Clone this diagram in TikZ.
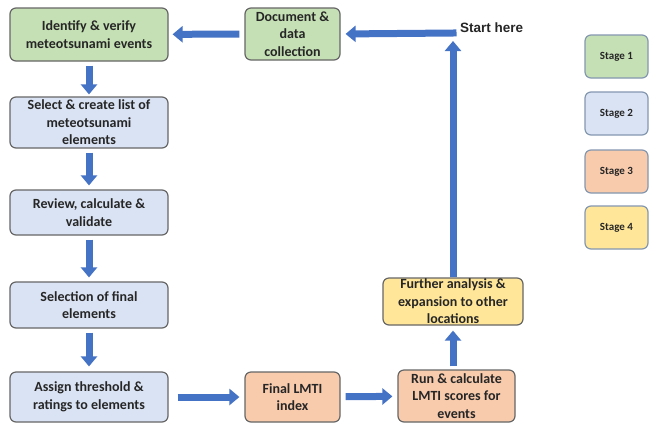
\documentclass[tikz,border=0pt]{standalone}
\usepackage{fontspec}
\setmainfont{Carlito}
\newfontfamily\starthere{Liberation Sans}
\usepackage{xcolor}
\usepackage{tikz}
\usetikzlibrary{arrows.meta,positioning,calc}

\definecolor{stgone}{HTML}{C5E0B4}
\definecolor{stgtwo}{HTML}{DAE3F3}
\definecolor{stgthree}{HTML}{F8CBAD}
\definecolor{stgfour}{HTML}{FFE699}
\definecolor{flowblue}{HTML}{4472C4}
\definecolor{boxgray}{HTML}{666666}
\definecolor{keygray}{HTML}{8497B0}

\begin{document}
\begin{tikzpicture}[x=1pt,y=-1pt,
  box/.style={draw=boxgray,line width=1.2pt,rounded corners=6pt,align=center,
    inner sep=1pt,text=black!85,font=\fontsize{14}{17.5}\selectfont\bfseries},
  keybox/.style={draw=keygray,line width=1.2pt,rounded corners=6pt,
    minimum width=63,minimum height=43,text=black!85,font=\fontsize{11}{13}\selectfont\bfseries},
  flow/.style={draw=flowblue,line width=7pt,-{Triangle[width=16pt,length=10pt]}}]
  \useasboundingbox (0,0) rectangle (655,429); % same size as the reference
  % left column
  \node[box,fill=stgone,minimum width=158,minimum height=53] (ident) at (89,34.5) {Identify \& verify\\meteotsunami events};
  \node[box,fill=stgtwo,minimum width=158,minimum height=51] (select) at (89,122.5) {Select \& create list of\\meteotsunami\\elements};
  \node[box,fill=stgtwo,minimum width=158,minimum height=45] (review) at (89,212.5) {Review, calculate \&\\validate};
  \node[box,fill=stgtwo,minimum width=158,minimum height=46] (selfin) at (89,305) {Selection of final\\elements};
  \node[box,fill=stgtwo,minimum width=158,minimum height=50] (assign) at (89,397) {Assign threshold \&\\ratings to elements};
  % middle and right
  \node[box,fill=stgone,minimum width=95,minimum height=52] (docu) at (292.5,34) {Document \&\\data\\collection};
  \node[box,fill=stgthree,minimum width=95,minimum height=50] (final) at (292.5,397) {Final LMTI\\index};
  \node[box,fill=stgthree,minimum width=117,minimum height=52] (run) at (456.5,396) {Run \& calculate\\LMTI scores for\\events};
  \node[box,fill=stgfour,minimum width=140,minimum height=47] (further) at (453,301.5) {Further analysis \&\\expansion to other\\locations};
  \coordinate (start) at (453,33);
  \node[anchor=west,inner sep=0pt,text=black!85,font=\starthere\fontsize{13.5}{15}\selectfont\bfseries] (starttxt) at (460,28) {Start here};
  % key
  \node[keybox,fill=stgone] (key1) at (616.5,56.5) {Stage 1};
  \node[keybox,fill=stgtwo] (key2) at (616.5,113.5) {Stage 2};
  \node[keybox,fill=stgthree] (key3) at (616.5,171.5) {Stage 3};
  \node[keybox,fill=stgfour] (key4) at (616.5,227.5) {Stage 4};
  % arrows
  \draw[flow,shorten <=4pt,shorten >=2pt] (ident) -- (select);
  \draw[flow,shorten <=4pt,shorten >=4pt] (select) -- (review);
  \draw[flow,shorten <=4pt,shorten >=4pt] (review) -- (selfin);
  \draw[flow,shorten <=4pt,shorten >=5pt] (selfin) -- (assign);
  \draw[flow,shorten <=9pt,shorten >=5pt] (assign) -- (final);
  \draw[flow,shorten <=5pt,shorten >=5pt] (final) -- (run);
  \draw[flow,shorten <=3pt,shorten >=5pt] (further.south |- run.north) -- (further.south);
  \draw[flow,shorten >=8pt] (further.north) -- (start);
  \draw[flow,shorten <=-3.5pt,shorten >=5pt] (start) -- (docu.east);
  \draw[flow,shorten <=5pt,shorten >=4pt] (docu) -- (ident);
\end{tikzpicture}
\end{document}
